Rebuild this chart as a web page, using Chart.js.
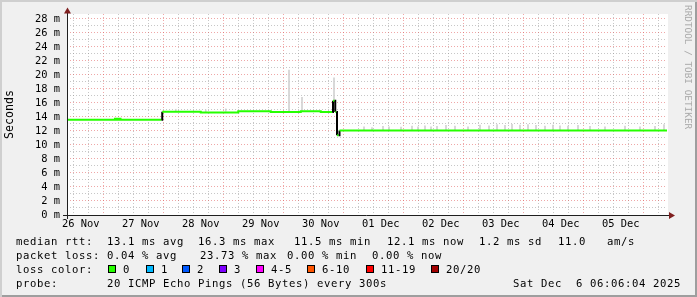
<!DOCTYPE html>
<html>
<head>
<meta charset="utf-8">
<script src="https://cdn.jsdelivr.net/npm/chart.js@4.4.1/dist/chart.umd.min.js"></script>
<style>
  html, body { margin: 0; padding: 0; }
  body { width: 697px; height: 297px; overflow: hidden; }
  #frame {
    position: relative; width: 697px; height: 297px; background: #f0f0f0;
    box-shadow: inset 2px 2px 0 #cfcfcf, inset -2px -2px 0 #9e9e9e;
  }
  #chart { position: absolute; left: 0; top: 0; }
  .t {
    position: absolute; white-space: pre; color: #000;
    font-family: 'DejaVu Sans Mono', monospace; font-size: 10.6px;
    letter-spacing: 0.62px; line-height: 14px;
  }
  .box {
    position: absolute; width: 6px; height: 6px; border: 1px solid #000; top: 265px;
  }
  #credit {
    position: absolute; left: 694px; top: 5px; white-space: pre;
    font-family: 'DejaVu Sans Mono', monospace; font-size: 9.4px; line-height: 11px;
    color: #aaaaaa; transform-origin: left top; transform: rotate(90deg);
  }
</style>
</head>
<body>
<div id="frame">
  <canvas id="chart" width="697" height="297"></canvas>
  <div id="credit">RRDTOOL / TOBI OETIKER</div>
  <div id="legend"></div>
</div>
<script>
// SmokePing style latency graph, 10 days

// x values are hours counted from 26 Nov 00:00
const dayLabels = ['26 Nov', '27 Nov', '28 Nov', '29 Nov', '30 Nov', '01 Dec', '02 Dec', '03 Dec', '04 Dec', '05 Dec'];
const startHour = 6.5;
const endHour = 246.5;

// median rtt (ms), value holds from its hour until the next one
const medianHours = [6.5, 25.7, 26.5, 27.3, 27.9, 44.3, 44.6, 60, 75, 88, 100, 108, 112.6, 112.9, 113.6, 113.8, 114.3, 114.5, 115.2, 115.5, 246.5];
const medianMs = [13.6, 13.75, 13.6, 13.75, 13.6, 13.6, 14.75, 14.65, 14.8, 14.7, 14.8, 14.7, 14.7, 16.3, 16.3, 14.7, 14.7, 11.4, 11.4, 12.05, 12.05];

// smoke (ping spread above the median)
const smokeHours = [50, 62, 70, 95.3, 100.5, 113.3, 125.3, 128.5, 132.9, 135.3, 140.1, 144.5, 146.9, 149.7, 152.1, 154.5,
  158.1, 161.7, 166.9, 171.7, 175.3, 178.5, 181.7, 184.5, 187.7, 190.9, 194.1, 197.7, 200.9, 203.7, 206.9, 210.9,
  215.7, 221.7, 229.7, 235.7, 241.7, 245.3];
const smokeLow = [14.75, 14.65, 14.8, 14.7, 14.8, 16.3, 12.05, 12.05, 12.05, 12.05, 12.05, 12.05, 12.05, 12.05, 12.05, 12.05,
  12.05, 12.05, 12.05, 12.05, 12.05, 12.05, 12.05, 12.05, 12.05, 12.05, 12.05, 12.05, 12.05, 12.05, 12.05, 12.05,
  12.05, 12.05, 12.05, 12.05, 12.05, 12.05];
const smokeHigh = [15.1, 15.0, 15.15, 20.7, 16.8, 19.6, 12.6, 12.5, 12.65, 12.6, 12.55, 12.7, 12.6, 12.75, 12.6, 12.65,
  12.8, 12.7, 12.6, 12.85, 12.75, 12.9, 12.8, 12.95, 12.85, 12.9, 12.8, 12.7, 12.85, 12.75, 12.7, 12.8,
  12.65, 12.6, 12.7, 12.6, 12.65, 12.9];

// legend
const statsRtt = ['median rtt:', '13.1 ms avg', '16.3 ms max', '11.5 ms min', '12.1 ms now', '1.2 ms sd', '11.0   am/s'];
const statsLoss = ['packet loss:', '0.04 % avg', '23.73 % max', '0.00 % min', '0.00 % now'];
const lossLabels = ['0', '1', '2', '3', '4-5', '6-10', '11-19', '20/20'];
const lossColors = ['#26ff00', '#00b8ff', '#0059ff', '#7e00ff', '#ff00ff', '#ff5500', '#ff0000', '#a10000'];
const probeText = ['probe:', '20 ICMP Echo Pings (56 Bytes) every 300s'];
const stampText = 'Sat Dec  6 06:06:04 2025';

const colors = {
    back: '#f0f0f0',
    canvas: '#ffffff',
    grid: 'rgba(143, 143, 143, 0.5)',
    mgrid: 'rgba(224, 80, 80, 0.5)',
    axis: '#1f1f1f',
    arrow: '#7f1f1f',
    smoke: '#d2d2d2',
    step: '#000000'
};

// legend as real text
const legend = document.getElementById('legend');
function addText(str, x, top) {
    const d = document.createElement('div');
    d.className = 't';
    d.textContent = str;
    d.style.left = x + 'px';
    d.style.top = top + 'px';
    legend.appendChild(d);
}
const rttX = [16, 107, 198, 294, 387, 479, 558];
statsRtt.forEach((s, i) => addText(s, rttX[i], 234));
const lossX = [16, 107, 200, 287, 372];
statsLoss.forEach((s, i) => addText(s, lossX[i], 248));
addText('loss color:', 16, 262);
const boxX = [108, 146, 182, 219, 256, 307, 366, 431];
lossLabels.forEach((s, i) => {
    const b = document.createElement('div');
    b.className = 'box';
    b.style.left = boxX[i] + 'px';
    b.style.background = lossColors[i];
    legend.appendChild(b);
    addText(s, boxX[i] + 15, 262);
});
addText(probeText[0], 16, 276);
addText(probeText[1], 107, 276);
addText(stampText, 513, 276);

// white canvas, axes and arrows like rrdtool
const rrdFrame = {
    id: 'rrdFrame',
    beforeDraw(chart) {
        const { ctx, chartArea: a } = chart;
        ctx.save();
        ctx.fillStyle = colors.canvas;
        ctx.fillRect(a.left, a.top, a.right - a.left + 1, a.bottom - a.top);
        ctx.restore();
    },
    afterDraw(chart) {
        const { ctx, chartArea: a } = chart;
        ctx.save();
        ctx.strokeStyle = colors.axis;
        ctx.lineWidth = 1;
        ctx.beginPath();
        ctx.moveTo(a.left - 4, a.bottom + 0.5);
        ctx.lineTo(a.right + 3, a.bottom + 0.5);
        ctx.moveTo(a.left + 0.5, a.bottom + 4);
        ctx.lineTo(a.left + 0.5, a.top - 2);
        ctx.stroke();
        ctx.fillStyle = colors.arrow;
        ctx.beginPath();
        ctx.moveTo(a.left + 0.5, a.top - 6.5);
        ctx.lineTo(a.left - 3, a.top - 0.5);
        ctx.lineTo(a.left + 4, a.top - 0.5);
        ctx.closePath();
        ctx.fill();
        ctx.beginPath();
        ctx.moveTo(a.right + 8, a.bottom + 0.5);
        ctx.lineTo(a.right + 2, a.bottom - 3);
        ctx.lineTo(a.right + 2, a.bottom + 4);
        ctx.closePath();
        ctx.fill();
        ctx.restore();
    }
};

const tickFont = { family: 'DejaVu Sans Mono', size: 10.4 };

new Chart(document.getElementById('chart'), {
    type: 'line',
    data: {
        datasets: [{
            label: 'median rtt',
            data: medianHours.map((h, i) => ({ x: h, y: medianMs[i] })),
            borderColor: lossColors[0],
            borderWidth: 2,
            stepped: true,
            pointRadius: 0,
            fill: false,
            order: 0,
            segment: {
                borderColor: c => Math.abs(c.p1.parsed.y - c.p0.parsed.y) > 0.5 ? colors.step : undefined
            }
        }, {
            type: 'bar',
            label: 'smoke',
            data: smokeHours.map((h, i) => ({ x: h, y: [smokeLow[i], smokeHigh[i]] })),
            backgroundColor: colors.smoke,
            barThickness: 1,
            order: 1
        }]
    },
    options: {
        responsive: false,
        animation: false,
        devicePixelRatio: 1,
        layout: { padding: { top: 14, right: 30, left: 0, bottom: 0 } },
        plugins: { legend: { display: false }, tooltip: { enabled: false } },
        scales: {
            x: {
                type: 'linear',
                min: startHour,
                max: endHour,
                offset: false,
                afterBuildTicks: scale => {
                    const ticks = [];
                    for (let h = 12; h < endHour; h += 6) ticks.push({ value: h });
                    scale.ticks = ticks;
                },
                afterFit: scale => { scale.height = 82; },
                border: { display: false, dash: [1, 2] },
                grid: {
                    drawTicks: false,
                    color: c => (c.tick && c.tick.value % 24 === 0) ? colors.mgrid : colors.grid
                },
                ticks: {
                    autoSkip: false,
                    maxRotation: 0,
                    minRotation: 0,
                    padding: 3,
                    color: '#000',
                    font: tickFont,
                    callback: v => v % 24 === 12 ? dayLabels[Math.floor(v / 24)] : ''
                }
            },
            y: {
                type: 'linear',
                min: 0,
                max: 28.7,
                afterFit: scale => { scale.width = 67; },
                border: { display: false, dash: [1, 2] },
                grid: {
                    drawTicks: false,
                    color: c => (c.tick && c.tick.value % 2 === 0) ? colors.mgrid : colors.grid
                },
                ticks: {
                    stepSize: 1,
                    includeBounds: false,
                    autoSkip: false,
                    padding: 7,
                    color: '#000',
                    font: tickFont,
                    callback: v => v % 2 === 0 ? v + ' m' : ''
                },
                title: {
                    display: true,
                    text: 'Seconds',
                    color: '#000',
                    font: { family: 'DejaVu Sans Mono', size: 11.6 },
                    padding: { top: 3, bottom: 0 }
                }
            }
        }
    },
    plugins: [rrdFrame]
});
</script>
</body>
</html>
